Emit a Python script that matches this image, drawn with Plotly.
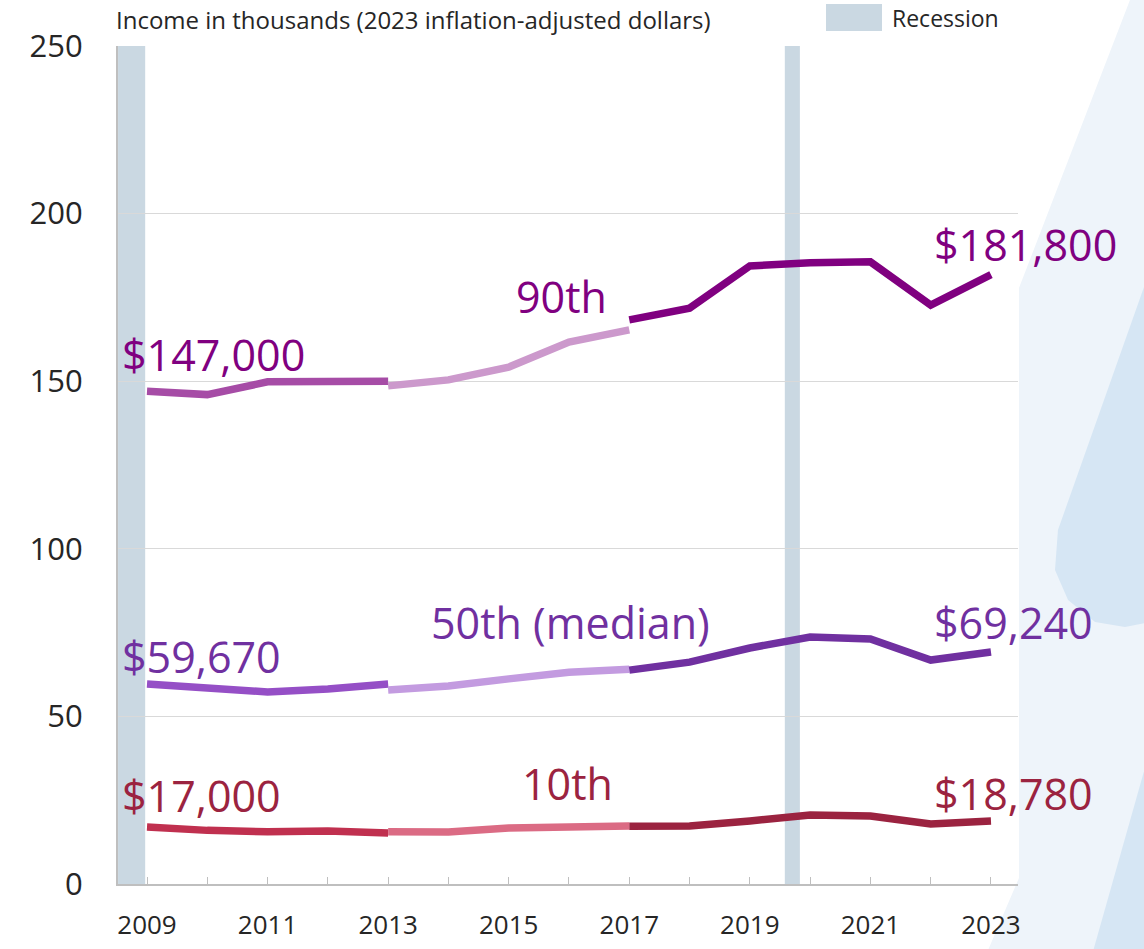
import plotly.graph_objects as go

# ---------------- data ----------------
years_a = [2009, 2010, 2011, 2012, 2013]
years_b = [2013, 2014, 2015, 2016, 2017]
years_c = [2017, 2018, 2019, 2020, 2021, 2022, 2023]

p90_a = [147.0, 146.0, 149.8, 150.1, 150.0]
p90_b = [148.6, 150.4, 154.2, 161.7, 165.3]
p90_c = [168.3, 171.8, 184.4, 185.3, 185.6, 172.7, 181.8]

p50_a = [59.67, 58.5, 57.3, 58.2, 59.7]
p50_b = [57.9, 59.1, 61.2, 63.2, 64.1]
p50_c = [63.8, 66.2, 70.4, 73.7, 73.1, 66.8, 69.24]

p10_a = [17.0, 16.0, 15.6, 15.8, 15.2]
p10_b = [15.6, 15.5, 16.7, 17.0, 17.3]
p10_c = [17.2, 17.3, 18.8, 20.6, 20.3, 17.9, 18.78]

recessions = [(2008.52, 2008.97), (2019.58, 2019.83)]

tick_years = list(range(2009, 2024))
tick_labels = [str(y) if y % 2 == 1 else "" for y in tick_years]

series = [
    ("90th", (p90_a, p90_b, p90_c), ("#A64CA6", "#CC99CC", "#800080"), "#800080",
     "$147,000", "$181,800", "90th", (2015.87, 175.4), (37, 30)),
    ("50th", (p50_a, p50_b, p50_c), ("#954FC6", "#C39BE0", "#7030A0"), "#7030A0",
     "$59,670", "$69,240", "50th (median)", (2016.02, 77.9), (27, 29)),
    ("10th", (p10_a, p10_b, p10_c), ("#C0304F", "#DB6B84", "#9B2340"), "#9B2340",
     "$17,000", "$18,780", "10th", (2015.98, 30.1), (32, 28)),
]

FONT = "Open Sans"
W, H = 1144, 949

fig = go.Figure()

for name, segs, cols, lcol, slab, elab, mlab, mpos, shifts in series:
    for yrs, vals, col in zip((years_a, years_b, years_c), segs, cols):
        fig.add_trace(go.Scatter(x=yrs, y=vals, mode="lines",
                                 line=dict(color=col, width=7.5),
                                 showlegend=False, hoverinfo="skip"))
    fig.add_annotation(x=years_a[0], y=segs[0][0], text=slab, showarrow=False,
                       xanchor="left", yanchor="middle", xshift=-27, yshift=shifts[0],
                       font=dict(family=FONT, size=43, color=lcol))
    fig.add_annotation(x=years_c[-1], y=segs[2][-1], text=elab, showarrow=False,
                       xanchor="left", yanchor="middle", xshift=-59, yshift=shifts[1],
                       font=dict(family=FONT, size=43, color=lcol))
    fig.add_annotation(x=mpos[0], y=mpos[1], text=mlab, showarrow=False,
                       xanchor="center", yanchor="middle",
                       font=dict(family=FONT, size=43, color=lcol))

shapes = []
for x0, x1 in recessions:
    shapes.append(dict(type="rect", xref="x", yref="y", x0=x0, x1=x1, y0=0, y1=250,
                       fillcolor="#CAD8E2", line=dict(width=0), layer="below"))

# ---- decorative background (page pixel -> paper helpers) ----
L, R, T, B = 118, 1018, 46, 884
def px(x):
    return (x - L) / (R - L)
def py(y):
    return (B - y) / (B - T)
def path(points):
    return "M " + " L ".join(f"{px(a):.4f},{py(b):.4f}" for a, b in points) + " Z"

shapes.append(dict(type="path", xref="paper", yref="paper", layer="below",
                   path=path([(1130, 0), (1150, 0), (1150, 955), (986, 955),
                              (1019, 878), (1019, 288)]),
                   fillcolor="#EEF4FA", line=dict(width=0)))
shapes.append(dict(type="path", xref="paper", yref="paper", layer="below",
                   path=path([(1150, 270), (1058, 530), (1055, 570), (1068, 600),
                              (1095, 622), (1125, 627), (1150, 622)]),
                   fillcolor="#D6E6F4", line=dict(width=0)))
shapes.append(dict(type="path", xref="paper", yref="paper", layer="below",
                   path=path([(1150, 750), (1150, 955), (1092, 955)]),
                   fillcolor="#D6E6F4", line=dict(width=0)))

shapes.append(dict(type="rect", xref="paper", yref="paper",
                   x0=px(826), x1=px(882), y0=py(31), y1=py(4),
                   fillcolor="#CAD8E2", line=dict(width=0)))

fig.add_annotation(xref="paper", yref="paper", x=px(890), y=py(18), text="Recession",
                   showarrow=False, xanchor="left", yanchor="middle",
                   font=dict(family=FONT, size=23, color="#262626"))
fig.add_annotation(xref="paper", yref="paper", x=px(114), y=py(20),
                   text="Income in thousands (2023 inflation-adjusted dollars)",
                   showarrow=False, xanchor="left", yanchor="middle",
                   font=dict(family=FONT, size=24, color="#262626"))

fig.update_layout(
    width=W, height=H,
    margin=dict(l=L, r=W - R, t=T, b=H - B),
    paper_bgcolor="white", plot_bgcolor="white",
    shapes=shapes, showlegend=False,
    font=dict(family=FONT, color="#262626"),
)
fig.update_xaxes(range=[2008.519, 2023.448], tickvals=tick_years, ticktext=tick_labels,
                 ticks="inside", ticklen=7, tickcolor="#BFBFBF", tickwidth=1,
                 showline=True, linecolor="#BFBFBF", linewidth=2, showgrid=False,
                 zeroline=False, tickfont=dict(size=26, color="#262626"),
                 ticklabelstandoff=17, automargin=False)
fig.update_yaxes(range=[0, 250], tickvals=[0, 50, 100, 150, 200, 250],
                 showline=True, linecolor="#BFBFBF", linewidth=2,
                 showgrid=True, gridcolor="#D9D9D9", gridwidth=1, zeroline=False,
                 ticks="", tickfont=dict(size=31, color="#262626"),
                 ticklabelstandoff=27, automargin=False)

fig.write_html("out.html", config={"displayModeBar": False},
               post_script="document.body.style.margin='0px';document.body.style.overflow='hidden';")
